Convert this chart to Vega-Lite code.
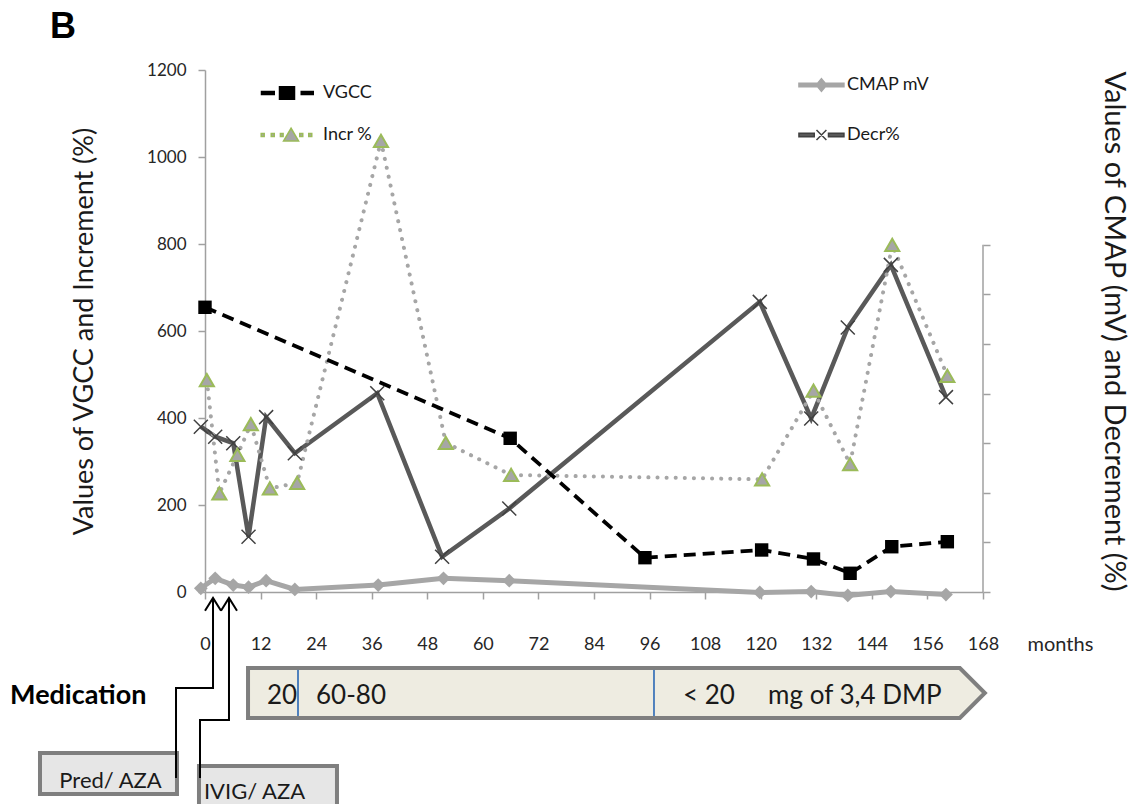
{
  "$schema": "https://vega.github.io/schema/vega-lite/v6.json",
  "width": 778,
  "height": 522,
  "autosize": {"type": "none"},
  "padding": {"left": 205, "top": 70, "right": 152, "bottom": 212},
  "background": "white",
  "title": {"text": "B", "anchor": "start", "frame": "group", "dx": -155, "dy": 41, "offset": 28, "font": "Liberation Sans", "fontSize": 36, "fontWeight": "bold", "color": "#000000", "baseline": "alphabetic"},
  "config": {
    "view": {"stroke": null},
    "axis": {"labelFont": "Lato", "titleFont": "Lato", "labelColor": "#262626", "titleColor": "#1a1a1a", "domainColor": "#a0a0a0", "tickColor": "#a0a0a0", "domainWidth": 1.5, "tickWidth": 1.5, "grid": false, "titleFontWeight": "normal"},
    "legend": {"labelFont": "Lato", "labelColor": "#1a1a1a"},
    "text": {"font": "Lato"}
  },
  "datasets": {
    "series": [
      {"series": "VGCC", "month": 0, "value": 654.5},
      {"series": "VGCC", "month": 65.9, "value": 353.3},
      {"series": "VGCC", "month": 95.0, "value": 78.9},
      {"series": "VGCC", "month": 120.2, "value": 96.6},
      {"series": "VGCC", "month": 131.4, "value": 75.9},
      {"series": "VGCC", "month": 139.3, "value": 43.0},
      {"series": "VGCC", "month": 148.3, "value": 104.1},
      {"series": "VGCC", "month": 160.3, "value": 115.6},
      {"series": "Incr %", "month": 0.4, "value": 487},
      {"series": "Incr %", "month": 3.1, "value": 227},
      {"series": "Incr %", "month": 7.0, "value": 315},
      {"series": "Incr %", "month": 9.9, "value": 386},
      {"series": "Incr %", "month": 14.0, "value": 238},
      {"series": "Incr %", "month": 19.9, "value": 251},
      {"series": "Incr %", "month": 38.0, "value": 1037},
      {"series": "Incr %", "month": 52.0, "value": 343},
      {"series": "Incr %", "month": 66.1, "value": 269},
      {"series": "Incr %", "month": 120.3, "value": 259},
      {"series": "Incr %", "month": 131.4, "value": 463},
      {"series": "Incr %", "month": 139.3, "value": 294},
      {"series": "Incr %", "month": 148.4, "value": 798},
      {"series": "Incr %", "month": 160.3, "value": 497},
      {"series": "CMAP mV", "month": -0.9, "value": 8.5},
      {"series": "CMAP mV", "month": 2.2, "value": 31.5},
      {"series": "CMAP mV", "month": 6.1, "value": 16},
      {"series": "CMAP mV", "month": 9.4, "value": 11},
      {"series": "CMAP mV", "month": 13.2, "value": 26},
      {"series": "CMAP mV", "month": 19.4, "value": 6},
      {"series": "CMAP mV", "month": 37.4, "value": 16},
      {"series": "CMAP mV", "month": 51.5, "value": 31.5},
      {"series": "CMAP mV", "month": 65.7, "value": 26},
      {"series": "CMAP mV", "month": 119.8, "value": -1},
      {"series": "CMAP mV", "month": 130.9, "value": 1},
      {"series": "CMAP mV", "month": 138.8, "value": -8},
      {"series": "CMAP mV", "month": 148.1, "value": 1},
      {"series": "CMAP mV", "month": 160.0, "value": -6},
      {"series": "Decr%", "month": -0.9, "value": 380},
      {"series": "Decr%", "month": 2.2, "value": 357},
      {"series": "Decr%", "month": 6.1, "value": 342},
      {"series": "Decr%", "month": 9.4, "value": 127},
      {"series": "Decr%", "month": 13.2, "value": 402},
      {"series": "Decr%", "month": 19.4, "value": 319},
      {"series": "Decr%", "month": 37.2, "value": 457},
      {"series": "Decr%", "month": 51.2, "value": 81},
      {"series": "Decr%", "month": 65.7, "value": 192},
      {"series": "Decr%", "month": 119.8, "value": 667},
      {"series": "Decr%", "month": 130.9, "value": 399},
      {"series": "Decr%", "month": 138.8, "value": 608},
      {"series": "Decr%", "month": 148.1, "value": 752},
      {"series": "Decr%", "month": 160.0, "value": 448}
    ],
    "medbar": [
      {"month": 9.29, "value": -174.7, "value2": -289.7},
      {"month": 163.0, "value": -174.7, "value2": -289.7},
      {"month": 168.4, "value": -232.2, "value2": -232.2}
    ],
    "doses": [
      {"month": 13.39, "value": -240, "label": "20"},
      {"month": 23.97, "value": -240, "label": "60-80"},
      {"month": 103.2, "value": -240, "label": "< 20"},
      {"month": 121.6, "value": -240, "label": "mg of 3,4 DMP"}
    ],
    "dosechange": [
      {"month": 20.08, "value": -179, "value2": -285},
      {"month": 96.95, "value": -179, "value2": -285}
    ],
    "heading": [{"month": -42.1, "value": -240, "label": "Medication"}],
    "boxes": [
      {"month": -35.63, "month2": -6.05, "value": -370.1, "value2": -464.4},
      {"month": -1.3, "month2": 28.5, "value": -400, "value2": -560}
    ],
    "boxlabels": [
      {"month": -20.4, "value": -434, "label": "Pred/ AZA"},
      {"month": 10.69, "value": -460, "label": "IVIG/ AZA"}
    ],
    "connectors": [
      {"id": "Pred", "seq": 1, "month": -6.26, "value": -427.6},
      {"id": "Pred", "seq": 2, "month": -6.26, "value": -220.7},
      {"id": "Pred", "seq": 3, "month": 1.73, "value": -220.7},
      {"id": "Pred", "seq": 4, "month": 1.73, "value": -13.8},
      {"id": "IVIG", "seq": 1, "month": -1.08, "value": -427.6},
      {"id": "IVIG", "seq": 2, "month": -1.08, "value": -294.3},
      {"id": "IVIG", "seq": 3, "month": 5.18, "value": -294.3},
      {"id": "IVIG", "seq": 4, "month": 5.18, "value": -13.8}
    ],
    "arrowtips": [
      {"id": "Pred", "month": 1.73, "value": -13.8},
      {"id": "IVIG", "month": 5.18, "value": -13.8}
    ]
  },
  "layer": [
    {
      "encoding": {
        "x": {"field": "month", "type": "quantitative", "scale": {"domain": [0, 168], "nice": false, "zero": false},
          "axis": {"values": [0, 12, 24, 36, 48, 60, 72, 84, 96, 108, 120, 132, 144, 156, 168], "title": "months", "titleX": 822, "titleY": 52, "titleAlign": "left", "titleBaseline": "middle", "titleFontSize": 20, "titleColor": "#262626", "labelFontSize": 18, "labelPadding": 36, "tickSize": 7, "labelFlush": false}},
        "y": {"field": "value", "type": "quantitative", "scale": {"domain": [0, 1200], "nice": false, "zero": false},
          "axis": {"values": [0, 200, 400, 600, 800, 1000, 1200], "format": "d", "title": "Values of VGCC and Increment  (%)", "titleFontSize": 27, "titlePadding": 48, "labelFontSize": 17, "labelPadding": 12, "tickSize": 7}}
      },
      "layer": [
        {"data": {"name": "medbar"}, "mark": {"type": "area", "fill": "#eeece1", "stroke": "#7f7f7f", "strokeWidth": 4, "strokeJoin": "miter"}, "encoding": {"y2": {"field": "value2"}}},
        {"data": {"name": "dosechange"}, "mark": {"type": "rule", "color": "#4f81bd", "strokeWidth": 2}, "encoding": {"y2": {"field": "value2"}}},
        {"data": {"name": "doses"}, "mark": {"type": "text", "align": "left", "baseline": "middle", "fontSize": 26, "color": "#1a1a1a"}, "encoding": {"text": {"field": "label"}}},
        {"data": {"name": "heading"}, "mark": {"type": "text", "align": "left", "baseline": "middle", "fontSize": 27, "fontWeight": "bold", "color": "#000000"}, "encoding": {"text": {"field": "label"}}},
        {"data": {"name": "boxes"}, "mark": {"type": "rect", "fill": "#e6e6e6", "stroke": "#7f7f7f", "strokeWidth": 4}, "encoding": {"x2": {"field": "month2"}, "y2": {"field": "value2"}}},
        {"data": {"name": "boxlabels"}, "mark": {"type": "text", "align": "center", "baseline": "middle", "fontSize": 22, "color": "#1a1a1a"}, "encoding": {"text": {"field": "label"}}},
        {"data": {"name": "connectors"}, "mark": {"type": "line", "color": "#000000", "strokeWidth": 2}, "encoding": {"detail": {"field": "id"}, "order": {"field": "seq"}}},
        {"data": {"name": "arrowtips"}, "mark": {"type": "point", "shape": "M-1,1.6L0,0L1,1.6", "size": 256, "filled": false, "stroke": "#000000", "strokeWidth": 2, "opacity": 1}},
        {"data": {"name": "series"}, "transform": [{"filter": {"field": "series", "equal": "CMAP mV"}}], "mark": {"type": "line", "color": "#a6a6a6", "strokeWidth": 5}},
        {"data": {"name": "series"}, "transform": [{"filter": {"field": "series", "equal": "Decr%"}}], "mark": {"type": "line", "color": "#595959", "strokeWidth": 4.5}},
        {"data": {"name": "series"}, "transform": [{"filter": {"field": "series", "equal": "Incr %"}}], "mark": {"type": "line", "color": "#a6a6a6", "strokeWidth": 4, "strokeDash": [0.1, 9], "strokeCap": "round"}},
        {"data": {"name": "series"}, "transform": [{"filter": {"field": "series", "equal": "VGCC"}}], "mark": {"type": "line", "color": "#000000", "strokeWidth": 3.8, "strokeDash": [12, 7]}},
        {"data": {"name": "series"}, "transform": [{"filter": {"field": "series", "equal": "CMAP mV"}}], "mark": {"type": "point", "shape": "diamond", "filled": true, "color": "#a6a6a6", "size": 190, "opacity": 1}},
        {"data": {"name": "series"}, "transform": [{"filter": {"field": "series", "equal": "Decr%"}}], "mark": {"type": "point", "shape": "M-1,-1L1,1M-1,1L1,-1", "filled": false, "stroke": "#404040", "strokeWidth": 1.5, "size": 196, "opacity": 1}},
        {"data": {"name": "series"}, "transform": [{"filter": {"field": "series", "equal": "Incr %"}}], "mark": {"type": "point", "shape": "triangle-up", "filled": true, "fill": "#a6a6a6", "stroke": "#9bbb59", "strokeWidth": 2, "size": 200, "opacity": 1}},
        {"data": {"name": "series"}, "transform": [{"filter": {"field": "series", "equal": "VGCC"}}], "mark": {"type": "point", "shape": "square", "filled": true, "color": "#000000", "size": 180, "opacity": 1}},
        {
          "data": {"name": "series"},
          "transform": [{"filter": {"field": "series", "oneOf": ["VGCC", "Incr %"]}}],
          "mark": {"type": "point", "filled": true, "opacity": 0},
          "encoding": {
            "shape": {"field": "series", "type": "nominal", "scale": {"domain": ["VGCC", "Incr %"], "range": ["M-1.7,-0.1H-0.85V0.1H-1.7Z M-0.5,-0.42H0.5V0.42H-0.5Z M0.95,-0.1H1.75V0.1H0.95Z", "M-1.72,-0.1H-1.52V0.1H-1.72Z M-1.05,-0.1H-0.85V0.1H-1.05Z M-0.44,-0.1H-0.26V0.1H-0.44Z M0.85,-0.1H1.05V0.1H0.85Z M1.45,-0.1H1.65V0.1H1.45Z M0.27,-0.45L0.77,0.4L-0.23,0.4Z"]},
              "legend": {"orient": "none", "legendX": 66, "legendY": 7, "title": null, "symbolSize": 900, "symbolStrokeWidth": 1.5, "symbolOpacity": 1, "labelFontSize": 18, "labelOffset": 20, "rowPadding": 16, "padding": 0}},
            "fill": {"field": "series", "type": "nominal", "scale": {"domain": ["VGCC", "Incr %"], "range": ["#000000", "#a6a6a6"]},
              "legend": {"orient": "none", "legendX": 66, "legendY": 7, "title": null, "symbolSize": 900, "symbolStrokeWidth": 1.5, "symbolOpacity": 1, "labelFontSize": 18, "labelOffset": 20, "rowPadding": 16, "padding": 0}},
            "stroke": {"field": "series", "type": "nominal", "scale": {"domain": ["VGCC", "Incr %"], "range": ["#000000", "#9bbb59"]},
              "legend": {"orient": "none", "legendX": 66, "legendY": 7, "title": null, "symbolSize": 900, "symbolStrokeWidth": 1.5, "symbolOpacity": 1, "labelFontSize": 18, "labelOffset": 20, "rowPadding": 16, "padding": 0}}
          }
        },
        {
          "data": {"name": "series"},
          "transform": [{"filter": {"field": "series", "oneOf": ["CMAP mV", "Decr%"]}}],
          "mark": {"type": "point", "filled": true, "opacity": 0},
          "encoding": {
            "shape": {"field": "series", "type": "nominal", "scale": {"domain": ["CMAP mV", "Decr%"], "range": ["M-1.47,-0.12H1.53V0.12H-1.47Z M0.03,-0.42L0.38,0L0.03,0.42L-0.32,0Z", "M-1.47,-0.12H-0.45V0.12H-1.47Z M0.5,-0.12H1.53V0.12H0.5Z M-0.3,-0.33L0.36,0.33 M-0.3,0.33L0.36,-0.33"]},
              "legend": {"orient": "none", "legendX": 600, "legendY": -1, "title": null, "symbolSize": 900, "symbolStrokeWidth": 1.5, "symbolOpacity": 1, "labelFontSize": 18, "labelOffset": 10, "rowPadding": 24, "padding": 0}},
            "fill": {"field": "series", "type": "nominal", "scale": {"domain": ["CMAP mV", "Decr%"], "range": ["#a6a6a6", "#595959"]},
              "legend": {"orient": "none", "legendX": 600, "legendY": -1, "title": null, "symbolSize": 900, "symbolStrokeWidth": 1.5, "symbolOpacity": 1, "labelFontSize": 18, "labelOffset": 10, "rowPadding": 24, "padding": 0}},
            "stroke": {"field": "series", "type": "nominal", "scale": {"domain": ["CMAP mV", "Decr%"], "range": ["#a6a6a6", "#404040"]},
              "legend": {"orient": "none", "legendX": 600, "legendY": -1, "title": null, "symbolSize": 900, "symbolStrokeWidth": 1.5, "symbolOpacity": 1, "labelFontSize": 18, "labelOffset": 10, "rowPadding": 24, "padding": 0}}
          }
        }
      ],
      "resolve": {"scale": {"shape": "independent", "fill": "independent", "stroke": "independent"}}
    },
    {
      "data": {"values": [{"axis": "right"}]},
      "mark": {"type": "rule", "color": "#a0a0a0", "strokeWidth": 1.5},
      "encoding": {
        "x": {"datum": 168, "type": "quantitative"},
        "y": {"datum": 0, "type": "quantitative", "scale": {"domain": [0, 1200], "nice": false, "zero": false},
          "axis": {"orient": "right", "values": [0, 114, 228, 342, 456, 570, 684, 798], "labels": false, "domain": false, "tickSize": 7, "title": "Values of CMAP (mV) and Decrement (%)", "titleFontSize": 29, "titleAngle": 90, "titlePadding": 108}},
        "y2": {"datum": 798}
      }
    }
  ],
  "resolve": {"scale": {"y": "independent"}}
}
